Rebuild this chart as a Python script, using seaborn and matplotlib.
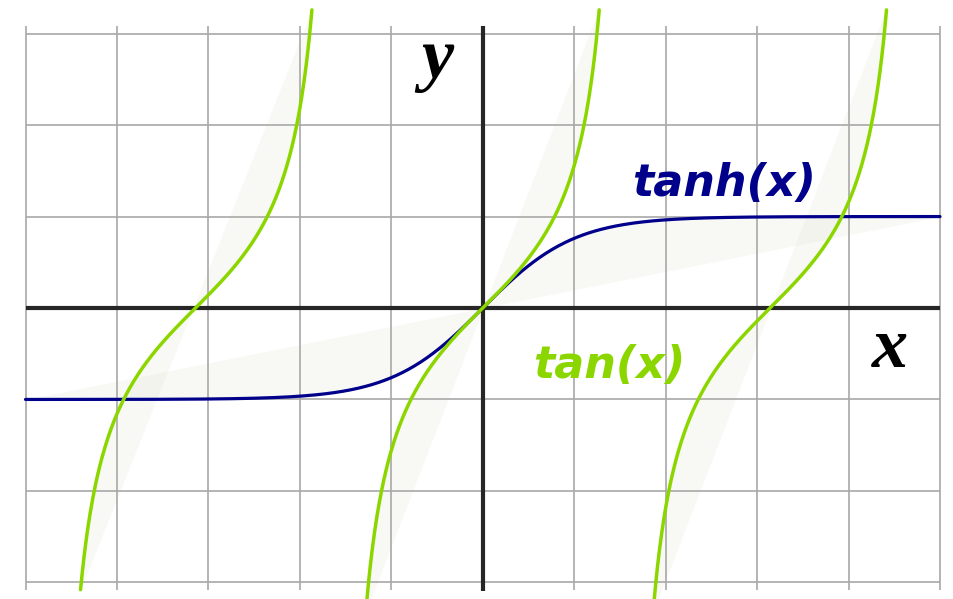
import numpy as np
import pandas as pd
import seaborn as sns
import matplotlib.pyplot as plt

sns.set_style("white")

# grid of the "graph paper"
GRID_X = [-5, -4, -3, -2, -1, 0, 1, 2, 3, 4, 5]
GRID_Y = [-3, -2, -1, 0, 1, 2, 3]
GRID_Y_EXT = 3.08          # vertical grid lines reach a bit past +-3

# tan(x): branch centres and where each branch is cut off (y values)
TAN_CENTRES = [-np.pi, 0.0, np.pi]
TAN_Y_LOW = [-3.08, -3.35, -3.35]
TAN_Y_HIGH = [3.26, 3.26, 3.26]

# tanh(x) drawn over the full width
TANH_X_RANGE = [-5, 5]

COR_TAN = "#8cd600"
COR_TANH = "#00008b"
COR_GRADE = "#a8a8a8"
COR_EIXO = "#262626"
COR_SOMBRA = "#ecece0"


def faixa(ax, x, y):
    """Sombra clara entre a curva e a corda que liga as pontas."""
    corda = y[0] + (y[-1] - y[0]) * (x - x[0]) / (x[-1] - x[0])
    ax.fill_between(x, y, corda, color=COR_SOMBRA, alpha=0.35, lw=0, zorder=0)


fig = plt.figure(figsize=(9.54, 5.99), dpi=100)
ax = fig.add_axes([0, 0, 1, 1])
ax.set_xlim(-5.279, 5.153)
ax.set_ylim(-3.182, 3.368)
ax.axis("off")

# grade
ax.vlines([g for g in GRID_X if g != 0], -GRID_Y_EXT, GRID_Y_EXT,
          color=COR_GRADE, lw=1.2, zorder=1)
ax.hlines([g for g in GRID_Y if g != 0], GRID_X[0], GRID_X[-1],
          color=COR_GRADE, lw=1.2, zorder=1)

# eixos
ax.vlines(0, -3.09, 3.08, color=COR_EIXO, lw=3.0, zorder=2)
ax.hlines(0, GRID_X[0], GRID_X[-1], color=COR_EIXO, lw=3.0, zorder=2)

# tanh(x)
xh = np.linspace(TANH_X_RANGE[0], TANH_X_RANGE[1], 600)
df_tanh = pd.DataFrame({"x": xh, "y": np.tanh(xh)})
faixa(ax, df_tanh["x"].values, df_tanh["y"].values)
sns.lineplot(data=df_tanh, x="x", y="y", ax=ax, color=COR_TANH, lw=2.3,
             sort=False, zorder=3)

# tan(x), um ramo por vez
for c, lo, hi in zip(TAN_CENTRES, TAN_Y_LOW, TAN_Y_HIGH):
    xt = c + np.linspace(np.arctan(lo), np.arctan(hi), 400)
    df_tan = pd.DataFrame({"x": xt, "y": np.tan(xt - c)})
    faixa(ax, df_tan["x"].values, df_tan["y"].values)
    sns.lineplot(data=df_tan, x="x", y="y", ax=ax, color=COR_TAN, lw=2.5,
                 sort=False, zorder=4)

# textos
ax.text(1.63, 1.22, "tanh(x)", color=COR_TANH, fontsize=32, style="italic",
        weight="bold", family="DejaVu Sans", ha="left", va="baseline", zorder=5)
ax.text(0.55, -0.77, "tan(x)", color=COR_TAN, fontsize=32, style="italic",
        weight="bold", family="DejaVu Sans", ha="left", va="baseline", zorder=5)
ax.text(-0.50, 2.52, "y", color="black", fontsize=52, style="italic",
        weight="bold", family="Liberation Serif", ha="center", va="baseline", zorder=5)
ax.text(4.45, -0.65, "x", color="black", fontsize=52, style="italic",
        weight="bold", family="Liberation Serif", ha="center", va="baseline", zorder=5)

ax.set_xlabel("")
ax.set_ylabel("")
plt.savefig("out.png", dpi=100)
plt.close()
